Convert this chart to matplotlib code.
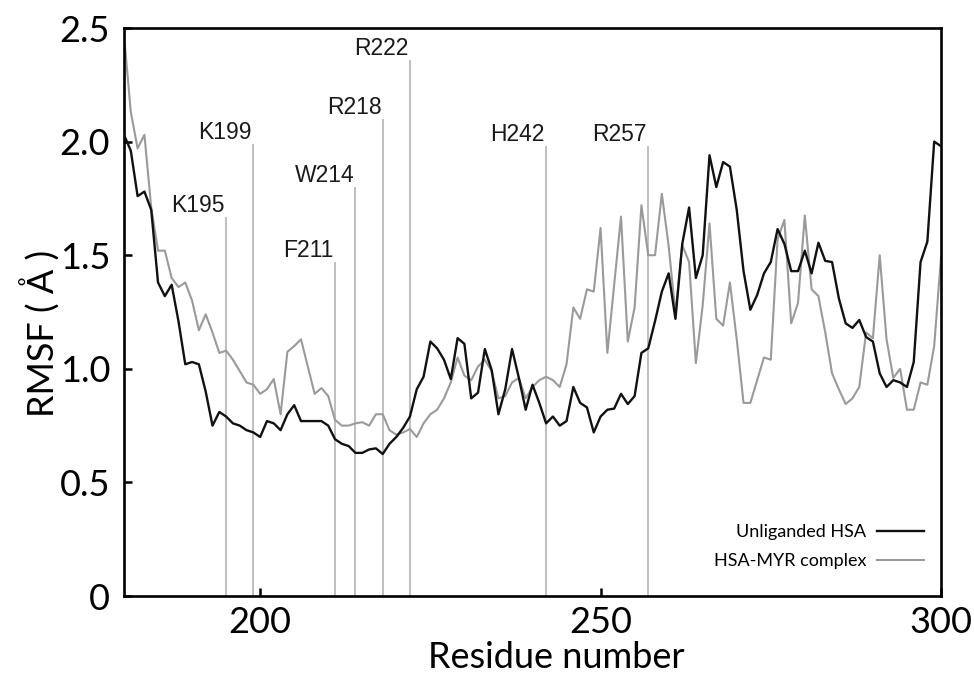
import matplotlib
matplotlib.use("Agg")
import matplotlib.pyplot as plt
import numpy as np

# Residue range
residues = list(range(180, 301))

# RMSF of unliganded HSA (Å)
rmsf_unliganded = [
    2.03, 1.96, 1.76, 1.78, 1.70, 1.38, 1.32, 1.37, 1.21, 1.02,
    1.03, 1.02, 0.90, 0.75, 0.81, 0.79, 0.76, 0.75, 0.73, 0.72,
    0.70, 0.77, 0.76, 0.73, 0.80, 0.84, 0.77, 0.77, 0.77, 0.77,
    0.75, 0.69, 0.67, 0.66, 0.63, 0.63, 0.645, 0.65, 0.625, 0.67,
    0.70, 0.74, 0.79, 0.91, 0.965, 1.12, 1.09, 1.04, 0.955, 1.135,
    1.11, 0.87, 0.895, 1.087, 0.995, 0.80, 0.91, 1.087, 0.96, 0.82,
    0.93, 0.85, 0.76, 0.79, 0.75, 0.77, 0.92, 0.85, 0.83, 0.72,
    0.79, 0.82, 0.825, 0.89, 0.845, 0.88, 1.07, 1.09, 1.21, 1.34,
    1.42, 1.22, 1.55, 1.71, 1.40, 1.50, 1.94, 1.80, 1.91, 1.89,
    1.70, 1.43, 1.26, 1.325, 1.42, 1.47, 1.615, 1.55, 1.43, 1.43,
    1.52, 1.42, 1.555, 1.475, 1.47, 1.31, 1.20, 1.18, 1.215, 1.14,
    1.12, 0.98, 0.92, 0.95, 0.94, 0.92, 1.03, 1.47, 1.56, 2.00,
    1.98,
]

# RMSF of the HSA-MYR complex (Å)
rmsf_complex = [
    2.47, 2.13, 1.97, 2.03, 1.71, 1.52, 1.52, 1.40, 1.36, 1.38,
    1.30, 1.17, 1.24, 1.16, 1.07, 1.08, 1.04, 0.99, 0.94, 0.93,
    0.89, 0.91, 0.955, 0.80, 1.075, 1.10, 1.13, 1.01, 0.89, 0.915,
    0.88, 0.775, 0.75, 0.75, 0.76, 0.765, 0.75, 0.80, 0.80, 0.73,
    0.71, 0.72, 0.735, 0.70, 0.76, 0.80, 0.82, 0.87, 0.94, 1.05,
    0.97, 0.95, 1.01, 1.04, 0.99, 0.87, 0.88, 0.94, 0.96, 0.87,
    0.92, 0.95, 0.965, 0.95, 0.92, 1.02, 1.27, 1.22, 1.35, 1.34,
    1.62, 1.07, 1.37, 1.67, 1.12, 1.27, 1.72, 1.50, 1.50, 1.77,
    1.54, 1.245, 1.545, 1.47, 1.025, 1.28, 1.64, 1.22, 1.19, 1.38,
    1.13, 0.85, 0.85, 0.95, 1.05, 1.04, 1.57, 1.655, 1.20, 1.29,
    1.675, 1.35, 1.32, 1.16, 0.98, 0.91, 0.845, 0.87, 0.92, 1.16,
    1.135, 1.50, 1.13, 0.96, 1.00, 0.82, 0.82, 0.94, 0.93, 1.10,
    1.49,
]

# Marked binding-site residues and the height of their marker lines
site_labels = ["K195", "K199", "F211", "W214", "R218", "R222", "H242", "R257"]
site_residues = [195, 199, 211, 214, 218, 222, 242, 257]
site_heights = [1.67, 1.99, 1.47, 1.80, 2.10, 2.36, 1.98, 1.98]

ytick_values = [0, 0.5, 1.0, 1.5, 2.0, 2.5]
ytick_labels = ["0", "0.5", "1.0", "1.5", "2.0", "2.5"]
xtick_values = [200, 250, 300]

label_font = ["Lato", "DejaVu Sans"]
annot_font = ["Liberation Sans", "DejaVu Sans"]

fig = plt.figure(figsize=(9.74, 6.75), dpi=100)
ax = fig.add_axes([0.1273, 0.117, 0.8388, 0.8415])

for r, h in zip(site_residues, site_heights):
    ax.plot([r, r], [0, h], color="#b4b4b4", lw=1.2, zorder=1,
            solid_capstyle="butt")
for name, r, h in zip(site_labels, site_residues, site_heights):
    ax.annotate(name, xy=(r, h), xytext=(-1, 0), textcoords="offset points",
                ha="right", va="bottom", fontsize=16.5, family=annot_font,
                color="#1a1a1a")

ax.plot(residues, rmsf_unliganded, color="#111111", lw=1.7, zorder=3,
        label="Unliganded HSA")
ax.plot(residues, rmsf_complex, color="#9a9a9a", lw=1.5, zorder=2,
        label="HSA-MYR complex")

ax.set_xlim(180, 300)
ax.set_ylim(0, 2.5)
ax.set_xticks(xtick_values)
ax.set_xticklabels([str(v) for v in xtick_values])
ax.set_yticks(ytick_values)
ax.set_yticklabels(ytick_labels)
ax.tick_params(direction="in", length=6, width=1.8, labelsize=26, pad=10)
ax.tick_params(axis="x", pad=7)
for lab in ax.get_xticklabels() + ax.get_yticklabels():
    lab.set_family(label_font)
for s in ax.spines.values():
    s.set_linewidth(1.9)

ax.set_xlabel("Residue number", fontsize=26, family=label_font)
ax.xaxis.set_label_coords(0.529, -0.079, transform=ax.transAxes)
ax.xaxis.label.set_va("top")
ax.set_ylabel("RMSF ( Å )", fontsize=26, family=label_font)
ax.yaxis.set_label_coords(-0.078, 0.463, transform=ax.transAxes)

leg = ax.legend(loc="lower right", bbox_to_anchor=(0.9879, 0.035),
                frameon=False, markerfirst=False,
                handlelength=2.6, handletextpad=0.6,
                borderaxespad=0.0, labelspacing=0.7,
                prop={"family": label_font, "size": 13})

fig.savefig("out.png", dpi=100)
